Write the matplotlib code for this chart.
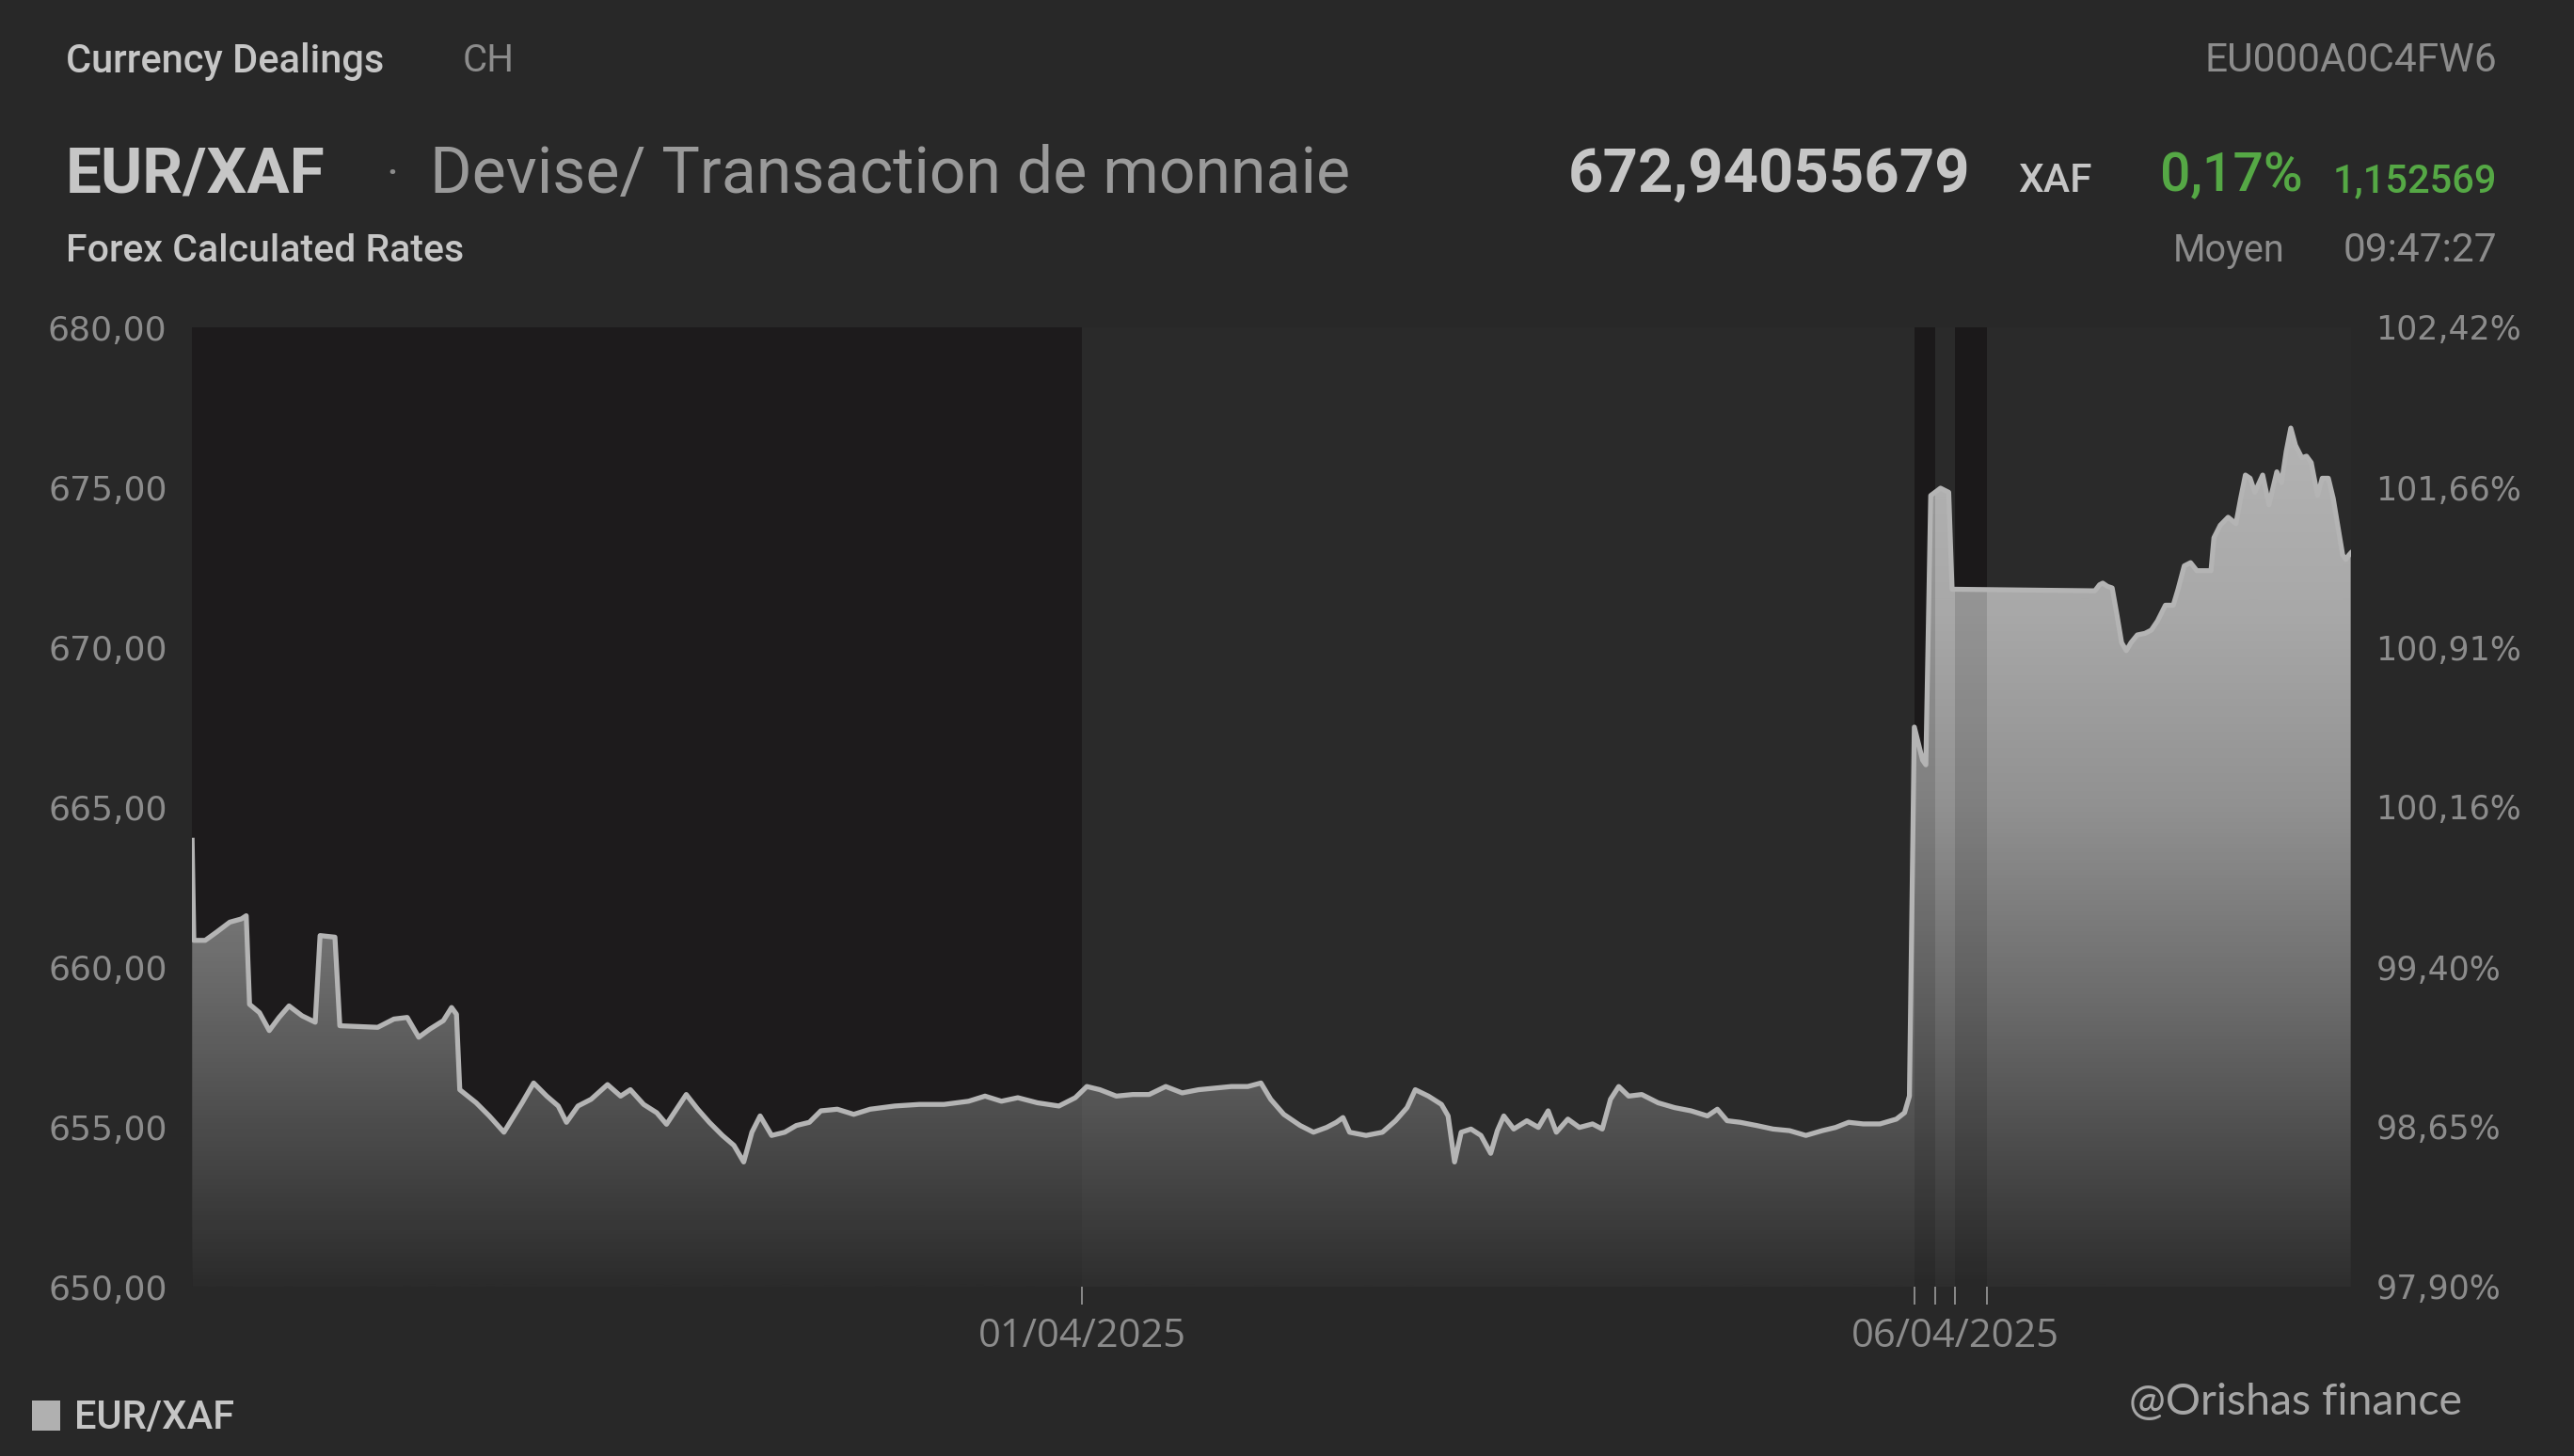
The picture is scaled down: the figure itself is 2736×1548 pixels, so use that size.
import matplotlib
matplotlib.use("Agg")
import matplotlib.pyplot as plt
import numpy as np
from matplotlib.colors import LinearSegmentedColormap
from matplotlib.patches import PathPatch, Patch

# ---------------- data (x = days relative to 01/04/2025 00:00) ----------------
days = [-5.096, -5.086, -5.021, -4.955, -4.880, -4.814, -4.786, -4.767, -4.710, -4.654,
        -4.598, -4.541, -4.466, -4.391, -4.363, -4.278, -4.250, -4.033, -3.940, -3.864,
        -3.798, -3.733, -3.657, -3.610, -3.582, -3.563, -3.469, -3.394, -3.310, -3.206,
        -3.140, -3.065, -2.999, -2.952, -2.886, -2.811, -2.717, -2.642, -2.586, -2.510,
        -2.435, -2.379, -2.322, -2.266, -2.200, -2.134, -2.059, -1.993, -1.937, -1.890,
        -1.843, -1.777, -1.702, -1.636, -1.561, -1.495, -1.401, -1.307, -1.213, -1.072,
        -0.931, -0.790, -0.649, -0.555, -0.461, -0.367, -0.254, -0.132, -0.038, 0.028,
        0.103, 0.197, 0.291, 0.385, 0.480, 0.574, 0.668, 0.762, 0.856, 0.950,
        1.025, 1.081, 1.156, 1.250, 1.326, 1.401, 1.457, 1.495, 1.533, 1.627,
        1.721, 1.796, 1.862, 1.909, 1.984, 2.059, 2.097, 2.134, 2.172, 2.228,
        2.285, 2.341, 2.379, 2.416, 2.473, 2.548, 2.614, 2.670, 2.717, 2.783,
        2.849, 2.924, 2.980, 3.027, 3.074, 3.131, 3.206, 3.300, 3.394, 3.488,
        3.582, 3.639, 3.695, 3.770, 3.864, 3.958, 4.052, 4.146, 4.240, 4.316,
        4.391, 4.475, 4.570, 4.664, 4.711, 4.739,
        4.767, 4.814, 4.833, 4.861, 4.917, 4.964, 4.983, 5.801,
        5.828, 5.846, 5.873, 5.900, 5.927, 5.954, 5.981, 6.008, 6.044, 6.088,
        6.124, 6.160, 6.205, 6.250, 6.277, 6.313, 6.349, 6.385, 6.466, 6.483,
        6.519, 6.564, 6.609, 6.636, 6.663, 6.690, 6.717, 6.762, 6.798, 6.843,
        6.870, 6.897, 6.923, 6.950, 6.986, 7.013, 7.040, 7.076, 7.103, 7.138,
        7.166, 7.193, 7.220, 7.238, 7.256, 7.266]

rates = [663.96, 660.83, 660.83, 661.09, 661.40, 661.50, 661.60, 658.83, 658.57, 658.01,
         658.42, 658.78, 658.47, 658.27, 660.98, 660.93, 658.16, 658.11, 658.37, 658.42,
         657.80, 658.06, 658.32, 658.73, 658.52, 656.16, 655.75, 655.34, 654.83, 655.75,
         656.37, 655.96, 655.65, 655.14, 655.65, 655.86, 656.32, 655.96, 656.16, 655.70,
         655.44, 655.08, 655.55, 656.01, 655.55, 655.14, 654.73, 654.42, 653.90, 654.83,
         655.34, 654.73, 654.83, 655.04, 655.14, 655.50, 655.55, 655.39, 655.55, 655.65,
         655.70, 655.70, 655.80, 655.96, 655.80, 655.91, 655.75, 655.65, 655.91, 656.26,
         656.16, 655.96, 656.01, 656.01, 656.26, 656.06, 656.16, 656.21, 656.26, 656.26,
         656.37, 655.86, 655.39, 655.04, 654.83, 654.98, 655.14, 655.29, 654.83, 654.73,
         654.83, 655.19, 655.60, 656.16, 655.96, 655.70, 655.34, 653.90, 654.83, 654.93,
         654.73, 654.17, 654.88, 655.34, 654.93, 655.19, 654.98, 655.50, 654.83, 655.24,
         654.98, 655.09, 654.93, 655.86, 656.26, 655.96, 656.01, 655.75, 655.60, 655.50,
         655.34, 655.55, 655.19, 655.14, 655.04, 654.93, 654.88, 654.73, 654.88, 654.98,
         655.14, 655.09, 655.09, 655.24, 655.44, 655.96,
         667.50, 666.47, 666.32, 674.74, 674.97, 674.84, 671.81, 671.76,
         671.95, 672.00, 671.90, 671.85, 671.02, 670.14, 669.89, 670.14, 670.38, 670.43,
         670.53, 670.82, 671.31, 671.31, 671.80, 672.54, 672.64, 672.39, 672.39, 673.42,
         673.81, 674.06, 673.86, 674.65, 675.38, 675.28, 674.84, 675.38, 674.45, 675.48,
         675.14, 676.12, 676.85, 676.31, 675.92, 675.97, 675.77, 674.74, 675.28, 675.28,
         674.65, 673.76, 672.88, 672.74, 672.88, 672.94]

base_rate = 663.96                      # reference for the % axis
y_ticks = [650, 655, 660, 665, 670, 675, 680]
x_major = [0, 5]
x_major_labels = ["01/04/2025", "06/04/2025"]
x_minor = [4.768, 4.887, 5.183]
closed_start = [-5.097, 4.768, 5.0]
closed_end = [0.0, 4.887, 5.183]
x_range = [-5.097, 7.268]

# ---------------- figure ----------------
W, H = 2736, 1548
FIG_BG = "#282828"
AX_BG = "#2a2a2a"
DARK = "#1f1d1e"
TXT_LIGHT = "#c6c6c6"
TXT_GRAY = "#8c8c8c"
GREEN = "#55a845"

fig = plt.figure(figsize=(W / 100, H / 100), dpi=100, facecolor=FIG_BG)

def fx(px):
    return px / W

def fy(py):
    return 1 - py / H

ax = fig.add_axes([fx(204), fy(1368), fx(2499) - fx(204), fy(348) - fy(1368)])
ax.set_facecolor(AX_BG)
ax.set_xlim(*x_range)
ax.set_ylim(y_ticks[0], y_ticks[-1])

for s0, s1 in zip(closed_start, closed_end):
    ax.axvspan(s0, s1, color=DARK, zorder=0, lw=0)

# gradient filled area
cmap = LinearSegmentedColormap.from_list(
    "fillgrad",
    [(0.0, "#2e2e2e"), (0.12, "#474747"), (0.3, "#6c6c6c"),
     (0.5, "#919191"), (0.7, "#a8a8a8"), (1.0, "#b9b9b9")])
grad = np.linspace(0, 1, 512).reshape(-1, 1)
poly = ax.fill_between(days, rates, y_ticks[0], color="none", lw=0)
clip = PathPatch(poly.get_paths()[0], transform=ax.transData, facecolor="none", edgecolor="none")
ax.add_patch(clip)
im = ax.imshow(grad, extent=[x_range[0], x_range[1], y_ticks[0], y_ticks[-1]],
               origin="lower", aspect="auto", cmap=cmap, vmin=0, vmax=1, zorder=1)
im.set_clip_path(clip)

# slight darkening of closed periods over the fill
for s0, s1, a in zip(closed_start, closed_end, [0.05, 0.12, 0.12]):
    ax.axvspan(s0, s1, color="black", alpha=a, zorder=2, lw=0)

ax.plot(days, rates, color="#b4b4b4", lw=3.8, solid_joinstyle="round", zorder=3)

for sp in ax.spines.values():
    sp.set_visible(False)

ax.set_yticks(y_ticks)
ax.set_yticklabels([f"{v:.2f}".replace(".", ",") for v in y_ticks])
ax.tick_params(axis="y", length=0, pad=19, labelsize=26, labelcolor=TXT_GRAY)
for t in ax.get_yticklabels():
    t.set_fontfamily("DejaVu Sans")

ax.set_xticks(x_major)
ax.set_xticklabels(x_major_labels)
ax.set_xticks(x_minor, minor=True)
ax.tick_params(axis="x", which="both", length=14, width=1.4, color="#8a8a8a",
               direction="out", pad=9, labelsize=30, labelcolor=TXT_GRAY)
for t in ax.get_xticklabels():
    t.set_fontfamily("Open Sans")

ax2 = ax.twinx()
ax2.set_ylim(y_ticks[0] / base_rate * 100, y_ticks[-1] / base_rate * 100)
pct = [v / base_rate * 100 for v in y_ticks]
ax2.set_yticks(pct)
ax2.set_yticklabels([f"{p:.2f}".replace(".", ",") + "%" for p in pct])
ax2.tick_params(axis="y", length=0, pad=19, labelsize=25, labelcolor=TXT_GRAY)
for t in ax2.get_yticklabels():
    t.set_fontfamily("DejaVu Sans")
for sp in ax2.spines.values():
    sp.set_visible(False)

# ---------------- header texts ----------------
HF = "Roboto"
fig.text(fx(70), fy(65), "Currency Dealings", color=TXT_LIGHT, fontsize=30, family=HF, weight="medium", va="center")
fig.text(fx(492), fy(65), "CH", color=TXT_GRAY, fontsize=29, family=HF, va="center")
fig.text(fx(2654), fy(65), "EU000A0C4FW6", color=TXT_GRAY, fontsize=30.5, family=HF, va="center", ha="right")

fig.text(fx(70), fy(186), "EUR/XAF", color=TXT_LIGHT, fontsize=48.5, family=HF, weight="bold", va="center")
fig.text(fx(410), fy(186), "·", color=TXT_GRAY, fontsize=36, family=HF, va="center")
fig.text(fx(457), fy(186), "Devise/ Transaction de monnaie", color="#9a9a9a", fontsize=49, family=HF, va="center")
fig.text(fx(2094), fy(186), "672,94055679", color=TXT_LIGHT, fontsize=47, family=HF, weight="bold", va="center", ha="right")
fig.text(fx(2145), fy(192), "XAF", color=TXT_LIGHT, fontsize=30.5, family=HF, weight="medium", va="center")
fig.text(fx(2296), fy(188), "0,17%", color=GREEN, fontsize=41, family=HF, weight="medium", va="center")
fig.text(fx(2654), fy(193), "1,152569", color=GREEN, fontsize=30, family=HF, weight="medium", va="center", ha="right")

fig.text(fx(70), fy(267), "Forex Calculated Rates", color=TXT_LIGHT, fontsize=29.5, family=HF, weight="medium", va="center")
fig.text(fx(2310), fy(267), "Moyen", color=TXT_GRAY, fontsize=28.5, family=HF, va="center")
fig.text(fx(2654), fy(267), "09:47:27", color=TXT_GRAY, fontsize=30.5, family=HF, va="center", ha="right")

# legend
fig.legend(handles=[Patch(facecolor="#b0b0b0", edgecolor="none", label="EUR/XAF")],
           loc="center left", bbox_to_anchor=(fx(34), fy(1508)), frameon=False,
           handlelength=0.72, handleheight=0.8, handletextpad=0.35,
           prop={"family": HF, "size": 30, "weight": "medium"}, labelcolor=TXT_LIGHT,
           borderaxespad=0, borderpad=0)

# watermark
fig.text(fx(2263), fy(1491), "@Orishas finance", color="#a6a6a6", fontsize=33.5, family="Lato", va="center")

fig.savefig("out.png", dpi=100, facecolor=FIG_BG)
